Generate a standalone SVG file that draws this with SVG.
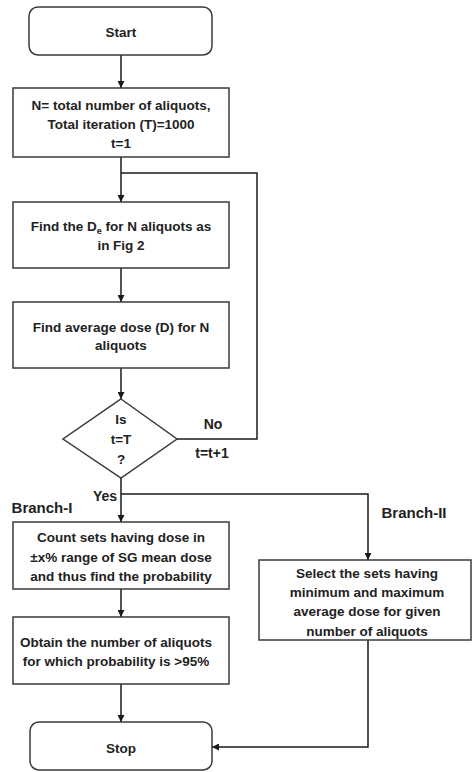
<svg xmlns="http://www.w3.org/2000/svg" width="472" height="772" viewBox="0 0 472 772">
<defs>
<marker id="ah" viewBox="0 0 10 10" refX="10" refY="5" markerWidth="7" markerHeight="7" markerUnits="userSpaceOnUse" orient="auto">
<path d="M0,0 L10,5 L0,10 z" fill="#1a1a1a"/>
</marker>
<style>
.box{fill:#fff;stroke:#3a3a3a;stroke-width:1.5}
.ln{fill:none;stroke:#1a1a1a;stroke-width:1.5}
text{font-family:"Liberation Sans",Arial,sans-serif;font-weight:bold;font-size:13.5px;fill:#222;text-anchor:middle}
.lab{font-size:15px}
.sm{font-size:14px}
</style>
</defs>
<rect width="472" height="772" fill="#fff"/>
<g id="connectors">
<line class="ln" x1="121" y1="55" x2="121" y2="88" marker-end="url(#ah)"/>
<line class="ln" x1="121" y1="157" x2="121" y2="202" marker-end="url(#ah)"/>
<line class="ln" x1="121" y1="268" x2="121" y2="302" marker-end="url(#ah)"/>
<line class="ln" x1="121" y1="368" x2="121" y2="399" marker-end="url(#ah)"/>
<polyline class="ln" points="177,439 257,439 257,173 121,173"/>
<line class="ln" x1="121" y1="478" x2="121" y2="522" marker-end="url(#ah)"/>
<polyline class="ln" points="121,494 368,494 368,560" marker-end="url(#ah)"/>
<line class="ln" x1="121" y1="589" x2="121" y2="617" marker-end="url(#ah)"/>
<line class="ln" x1="121" y1="684" x2="121" y2="722" marker-end="url(#ah)"/>
<polyline class="ln" points="368,640 368,747 212,747" marker-end="url(#ah)"/>
</g>
<g id="start">
<rect class="box" x="29" y="7" width="183" height="48" rx="9"/>
<text x="121" y="37">Start</text>
</g>
<g id="init">
<rect class="box" x="13" y="88" width="216" height="69"/>
<text x="121" y="110">N= total number of aliquots,</text>
<text x="121" y="129">Total iteration (T)=1000</text>
<text x="121" y="148">t=1</text>
</g>
<g id="findDe">
<rect class="box" x="13" y="202" width="216" height="66"/>
<text x="121" y="231">Find the D<tspan font-size="9" dy="3">e</tspan><tspan dy="-3"> for N aliquots as</tspan></text>
<text x="121" y="250">in Fig 2</text>
</g>
<g id="avg">
<rect class="box" x="13" y="302" width="216" height="66"/>
<text x="121" y="332">Find average dose (D) for N</text>
<text x="121" y="350">aliquots</text>
</g>
<g id="decision">
<polygon class="box" points="121,399 177,439 121,478 63,439"/>
<text x="121" y="424">Is</text>
<text x="121" y="444">t=T</text>
<text x="121" y="464">?</text>
</g>
<g id="labels">
<text class="sm" x="213" y="429">No</text>
<text class="sm" x="212" y="458">t=t+1</text>
<text class="sm" x="105" y="501">Yes</text>
<text class="lab" x="42" y="513">Branch-I</text>
<text class="lab" x="414" y="518">Branch-II</text>
</g>
<g id="count">
<rect class="box" x="13" y="522" width="216" height="67"/>
<text x="121" y="542">Count sets having dose in</text>
<text x="121" y="562">±x% range of SG mean dose</text>
<text x="121" y="581">and thus find the probability</text>
</g>
<g id="obtain">
<rect class="box" x="13" y="617" width="216" height="67"/>
<text x="116" y="647">Obtain the number of aliquots</text>
<text x="116" y="666">for which probability is &gt;95%</text>
</g>
<g id="select">
<rect class="box" x="259" y="560" width="212" height="80"/>
<text x="367" y="578">Select the sets having</text>
<text x="367" y="597">minimum and maximum</text>
<text x="367" y="616">average  dose for given</text>
<text x="367" y="636">number of aliquots</text>
</g>
<g id="stop">
<rect class="box" x="30" y="722" width="182" height="48" rx="9"/>
<text x="121" y="753">Stop</text>
</g>
</svg>
